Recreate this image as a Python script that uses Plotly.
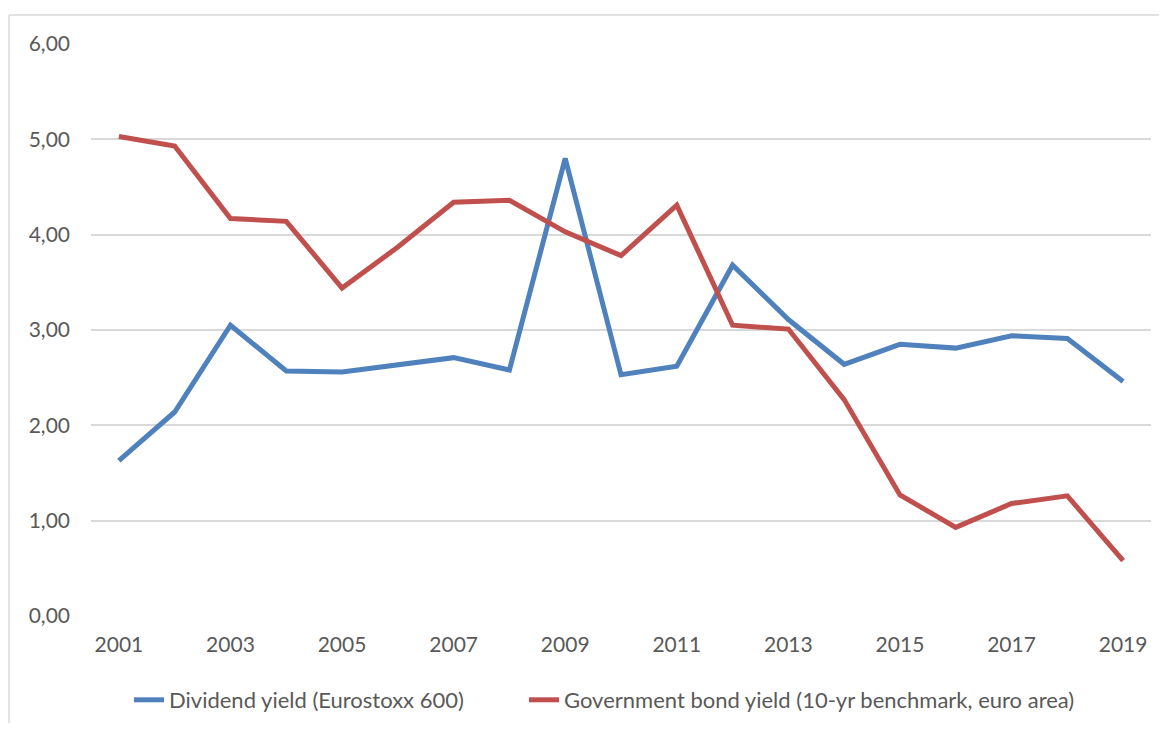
import plotly.graph_objects as go

years = list(range(2001, 2020))
dividend_yield = [1.63, 2.14, 3.05, 2.57, 2.56, 2.64, 2.71, 2.58, 4.80, 2.53,
                  2.62, 3.68, 3.11, 2.64, 2.85, 2.81, 2.94, 2.91, 2.46]
bond_yield = [5.03, 4.93, 4.17, 4.14, 3.44, 3.87, 4.34, 4.36, 4.03, 3.78,
              4.31, 3.05, 3.01, 2.27, 1.27, 0.93, 1.18, 1.26, 0.58]
x_ticks = list(range(2001, 2020, 2))
y_ticks = [0, 1, 2, 3, 4, 5, 6]

# page has an 8px body margin; figure coordinates are page coordinates minus 8
OFF = 8
W, H = 1151, 715
ml, mt = 91 - OFF, 44 - OFF
pw, ph = 1060, 572
mr = W - ml - pw
mb = H - mt - ph

def px2x(x):
    return (x - OFF - ml) / pw

def px2y(y):
    return (mt + ph - (y - OFF)) / ph

fig = go.Figure()
fig.add_trace(go.Scatter(x=years, y=dividend_yield, mode="lines",
                         name="Dividend yield (Eurostoxx 600)", legend="legend",
                         line=dict(color="#4F81BD", width=5)))
fig.add_trace(go.Scatter(x=years, y=bond_yield, mode="lines",
                         name="Government bond yield (10-yr benchmark, euro area)",
                         legend="legend2",
                         line=dict(color="#C0504D", width=5)))

leg_common = dict(orientation="h", xanchor="left", yanchor="middle", y=px2y(700),
                  font=dict(size=22, color="#595959"), bgcolor="rgba(0,0,0,0)")

fig.update_layout(
    width=W, height=H,
    margin=dict(l=ml, r=mr, t=mt, b=mb, autoexpand=False),
    paper_bgcolor="white", plot_bgcolor="white",
    separators=", ",
    font=dict(family="Lato, Carlito, Calibri, sans-serif", size=21, color="#595959"),
    showlegend=True,
    legend=dict(x=px2x(129), **leg_common),
    legend2=dict(x=px2x(524), **leg_common),
    xaxis=dict(range=[2000.5, 2019.5], tickvals=x_ticks, ticktext=[str(v) for v in x_ticks],
               showgrid=False, zeroline=False, showline=False, ticks="",
               ticklabelstandoff=14),
    yaxis=dict(range=[0, 6], tickvals=y_ticks, tickformat=".2f",
               showgrid=True, gridcolor="#D9D9D9", gridwidth=1.5, zeroline=False,
               showline=False, ticks="", ticklabelstandoff=20),
    shapes=[
        dict(type="line", xref="paper", yref="paper",
             x0=px2x(9), x1=px2x(1200), y0=px2y(15), y1=px2y(15),
             line=dict(color="#D9D9D9", width=1.5), layer="below"),
        dict(type="line", xref="paper", yref="paper",
             x0=px2x(9), x1=px2x(9), y0=px2y(15), y1=px2y(760),
             line=dict(color="#D9D9D9", width=1.5), layer="below"),
    ],
)

fig.write_html("out.html")
